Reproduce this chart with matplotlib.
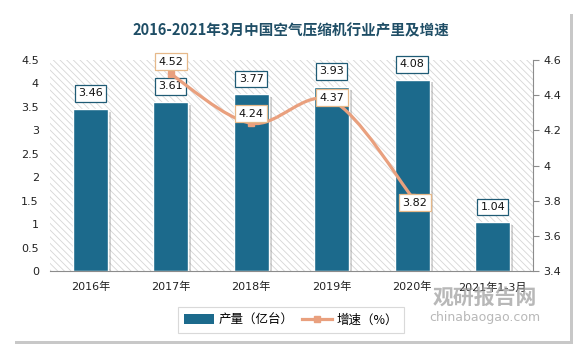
import matplotlib
matplotlib.use('Agg')
import matplotlib.pyplot as plt
import numpy as np
from matplotlib.patches import Rectangle
from matplotlib.path import Path
from matplotlib.patches import PathPatch
from matplotlib.lines import Line2D
import matplotlib.patheffects as pe

plt.rcParams['font.family'] = ['DejaVu Sans', 'Noto Sans CJK SC']
plt.rcParams['hatch.color'] = '#d6d6d6'
plt.rcParams['hatch.linewidth'] = 0.6

# ===== Data =====
years = ['2016年', '2017年', '2018年', '2019年', '2020年', '2021年1-3月']
output = [3.46, 3.61, 3.77, 3.93, 4.08, 1.04]        # 产量（亿台）
growth_idx = [1, 2, 3, 4]
growth = [4.52, 4.24, 4.37, 3.82]                    # 增速（%）

bar_color = '#1c6a8c'
line_color = '#e9a07e'
title_color = '#1f4e66'

fig = plt.figure(figsize=(5.83, 3.52), dpi=100)
fig.patch.set_facecolor('white')

# card with shadow
fig.patches.append(Rectangle((15 / 583, 1 - 344 / 352), 558 / 583, 330 / 352,
                             transform=fig.transFigure, facecolor='#c8c8c8',
                             edgecolor='none', zorder=-3))
fig.patches.append(Rectangle((13 / 583, 1 - 341 / 352), 557 / 583, 329 / 352,
                             transform=fig.transFigure, facecolor='white',
                             edgecolor='none', zorder=-2))

ax = fig.add_axes([50 / 583, 1 - 271 / 352, 483 / 583, 211 / 352])
ax2 = ax.twinx()

x = np.arange(len(years))
ax.set_xlim(-0.5, len(years) - 0.5)
ax.set_ylim(0, 4.5)
ax.set_yticks(np.arange(0, 4.51, 0.5))
ax.set_yticklabels(['0', '0.5', '1', '1.5', '2', '2.5', '3', '3.5', '4', '4.5'])

# hatched background
ax.add_patch(Rectangle((0, 0), 1, 1, transform=ax.transAxes, facecolor='white',
                       edgecolor='#d6d6d6', hatch='\\\\\\\\\\', linewidth=0, zorder=0))

bars = ax.bar(x, output, width=0.44, color=bar_color, edgecolor='white',
              linewidth=1, zorder=2,
              path_effects=[pe.SimplePatchShadow(offset=(2, -2), shadow_rgbFace='#808080', alpha=0.35),
                            pe.Normal()])

for xi, v in zip(x, output):
    ax.annotate(f'{v:.2f}', (xi, v), xytext=(0, 11), textcoords='offset points',
                ha='center', va='center', fontsize=8, color='#111111', zorder=5,
                bbox=dict(boxstyle='square,pad=0.3', facecolor='white',
                          edgecolor='#1f5b75', linewidth=0.9))

for s in ['left', 'top', 'right']:
    ax.spines[s].set_visible(False)
ax.spines['bottom'].set_color('#8c8c8c')
ax.tick_params(axis='y', length=0, labelsize=8, pad=8, colors='#222222')
ax.set_xticks(x)
ax.set_xticklabels(years, fontsize=8, color='#222222')
ax.tick_params(axis='x', length=0, pad=8)

# growth line (smooth curve through points)
ax2.set_ylim(3.4, 4.6)
ax2.set_yticks(np.arange(3.4, 4.61, 0.2))
ax2.set_yticklabels(['3.4', '3.6', '3.8', '4', '4.2', '4.4', '4.6'])
for s in ['left', 'top', 'bottom']:
    ax2.spines[s].set_visible(False)
ax2.spines['right'].set_color('#8c8c8c')
ax2.tick_params(axis='y', length=4, color='#8c8c8c', labelsize=8, labelcolor='#222222')

gx = np.array(growth_idx, dtype=float)
gy = np.array(growth)
verts = [(gx[0], gy[0])]
codes = [Path.MOVETO]
t = 1 / 6
for i in range(len(gx) - 1):
    p0 = (gx[max(i - 1, 0)], gy[max(i - 1, 0)])
    p1 = (gx[i], gy[i])
    p2 = (gx[i + 1], gy[i + 1])
    p3 = (gx[min(i + 2, len(gx) - 1)], gy[min(i + 2, len(gx) - 1)])
    c1 = (p1[0] + (p2[0] - p0[0]) * t, p1[1] + (p2[1] - p0[1]) * t)
    c2 = (p2[0] - (p3[0] - p1[0]) * t, p2[1] - (p3[1] - p1[1]) * t)
    verts += [c1, c2, p2]
    codes += [Path.CURVE4] * 3
ax2.add_patch(PathPatch(Path(verts, codes), facecolor='none', edgecolor=line_color,
                        linewidth=2.3, zorder=3))
ax2.plot(gx, gy, 's', color=line_color, markersize=5, zorder=4)

offsets = [(0, 9), (0, 7), (0, 2), (2, -4)]
for xi, v, off in zip(gx, gy, offsets):
    ax2.annotate(f'{v:.2f}', (xi, v), xytext=off, textcoords='offset points',
                 ha='center', va='center', fontsize=8, color='#111111', zorder=6,
                 bbox=dict(boxstyle='square,pad=0.3', facecolor='white',
                           edgecolor='#e6b98a', linewidth=0.9))

fig.text(291 / 583, 1 - 30 / 352, '2016-2021年3月中国空气压缩机行业产里及增速',
         ha='center', va='center', fontsize=10.5, fontweight='bold',
         color=title_color, family=['Noto Sans CJK SC'])

handles = [Rectangle((0, 0), 1, 1, facecolor=bar_color),
           Line2D([0], [0], color=line_color, lw=2.3, marker='s', markersize=5)]
leg = fig.legend(handles, ['产量（亿台）', '增速（%）'], loc='center',
                 bbox_to_anchor=(291 / 583, 1 - 320 / 352), ncol=2,
                 frameon=True, fancybox=False, edgecolor='#d0d0d0',
                 handlelength=2.4, handleheight=0.8, handletextpad=0.4,
                 columnspacing=0.6, borderpad=0.5,
                 prop={'family': ['Noto Sans CJK SC'], 'size': 9})
leg.get_frame().set_linewidth(0.8)

# watermark
fig.text(485 / 583, 1 - 297 / 352, '观研报告网', ha='center', va='center',
         fontsize=15, fontweight='bold', color='#9a9a9a', alpha=0.7,
         family=['Noto Sans CJK SC'])
fig.text(485 / 583, 1 - 318 / 352, 'chinabaogao.com', ha='center', va='center',
         fontsize=9, color='#9a9a9a', alpha=0.7)

plt.savefig('out.png', dpi=100, facecolor='white')
